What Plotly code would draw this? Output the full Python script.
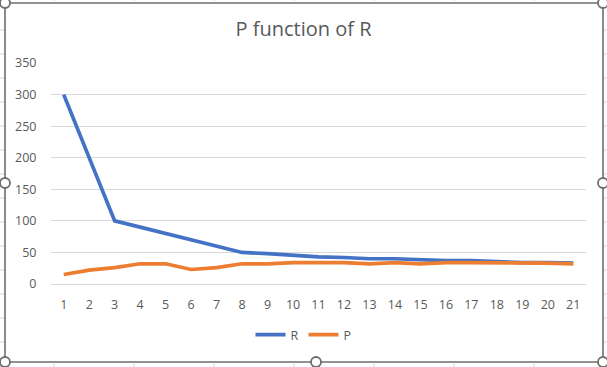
import plotly.graph_objects as go

# ---- data ----
categories = list(range(1, 22))
r_values = [300, 200, 100, 90, 80, 70, 59, 50, 48, 45, 43, 42, 40, 40, 38, 37, 37, 35, 34, 34, 33]
p_values = [15, 22, 26, 32, 32, 23, 26, 32, 32, 34, 34, 34, 32, 34, 32, 34, 34, 34, 34, 33, 32]
title_text = "P function of R"

W, H = 607, 367
L, R, T, B = 51, 21, 63, 83
PW, PH = W - L - R, H - T - B

def px(x):
    return (x - L) / PW

def py(y):
    return 1 - (y - T) / PH

fig = go.Figure()
fig.add_trace(go.Scatter(x=categories, y=r_values, name="R", mode="lines",
                         line=dict(color="#4472C4", width=3.7)))
fig.add_trace(go.Scatter(x=categories, y=p_values, name="P", mode="lines",
                         line=dict(color="#ED7D31", width=3.7)))

shapes = []
cell = "#D4D4D4"
# faint worksheet cell lines outside the chart
for yy in range(6, 367, 24):
    shapes.append(dict(type="line", xref="paper", yref="paper", x0=px(0), x1=px(4), y0=py(yy), y1=py(yy),
                       line=dict(color=cell, width=1), layer="below"))
    shapes.append(dict(type="line", xref="paper", yref="paper", x0=px(604), x1=px(607), y0=py(yy), y1=py(yy),
                       line=dict(color=cell, width=1), layer="below"))
for xx in range(54, 607, 80):
    shapes.append(dict(type="line", xref="paper", yref="paper", x0=px(xx), x1=px(xx), y0=py(363), y1=py(367),
                       line=dict(color=cell, width=1), layer="below"))
    shapes.append(dict(type="line", xref="paper", yref="paper", x0=px(xx), x1=px(xx), y0=py(0), y1=py(1),
                       line=dict(color=cell, width=1), layer="below"))
# chart border (selected)
shapes.append(dict(type="rect", xref="paper", yref="paper", x0=px(5), x1=px(603), y0=py(3), y1=py(362),
                   line=dict(color="#6E6E6E", width=1.6), fillcolor="rgba(0,0,0,0)"))
# selection handles
for (hx, hy) in [(5, 3), (603, 3), (5, 183), (603, 183), (5, 362), (316, 362), (603, 362)]:
    shapes.append(dict(type="circle", xref="paper", yref="paper",
                       x0=px(hx - 5), x1=px(hx + 5), y0=py(hy - 5), y1=py(hy + 5),
                       line=dict(color="#6E6E6E", width=1.8), fillcolor="white"))

font_family = "Open Sans, Noto Sans, sans-serif"
fig.update_layout(
    width=W, height=H,
    margin=dict(l=L, r=R, t=T, b=B, autoexpand=False),
    paper_bgcolor="white", plot_bgcolor="white",
    title=dict(text=title_text, x=0.5, xref="container", xanchor="center",
               y=1 - 29 / H, yref="container", yanchor="middle",
               font=dict(family=font_family, size=20, color="#595959")),
    font=dict(family=font_family, size=12, color="#595959"),
    xaxis=dict(range=[0.5, 21.5], tickmode="array", tickvals=categories,
               ticktext=[str(c) for c in categories],
               showgrid=False, zeroline=False, showline=True, linecolor="#D9D9D9", linewidth=1,
               ticks="outside", ticklen=9, tickcolor="rgba(0,0,0,0)",
               tickfont=dict(size=12.5, color="#595959"), fixedrange=True),
    yaxis=dict(range=[0, 350], dtick=50, showgrid=True, gridcolor="#D9D9D9", gridwidth=1,
               zeroline=False, showline=False,
               ticks="outside", ticklen=11, tickcolor="rgba(0,0,0,0)",
               tickfont=dict(size=12.5, color="#595959"), fixedrange=True),
    legend=dict(orientation="h", xref="container", x=0.5, xanchor="center",
                yref="container", y=1 - 335 / H, yanchor="middle",
                font=dict(size=12.5, color="#595959"), itemwidth=30,
                bgcolor="rgba(0,0,0,0)"),
    shapes=shapes,
    showlegend=True,
    hovermode=False,
)

fig.write_html("out.html", config={"displayModeBar": False, "staticPlot": False},
               post_script="document.body.style.margin='0';document.body.style.padding='0';")
